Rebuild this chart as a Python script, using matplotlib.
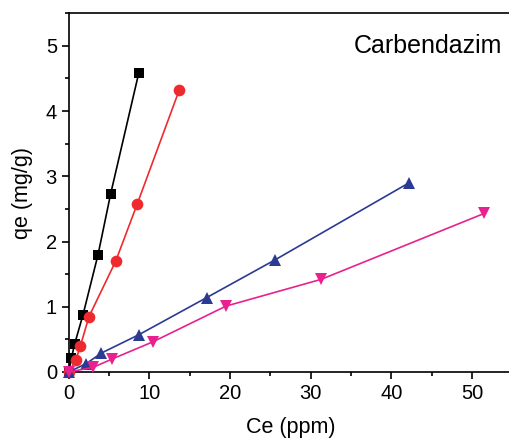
import matplotlib
matplotlib.use("Agg")
import matplotlib.pyplot as plt
from matplotlib.ticker import MultipleLocator

plt.rcParams['font.family'] = ['Liberation Sans', 'DejaVu Sans']

# data
ce_black = [0, 0.33, 0.74, 1.78, 3.64, 5.2, 8.68]
qe_black = [0, 0.21, 0.43, 0.88, 1.80, 2.73, 4.58]

ce_red = [0, 0.87, 1.45, 2.52, 5.83, 8.48, 13.7]
qe_red = [0, 0.18, 0.40, 0.85, 1.70, 2.57, 4.32]

ce_blue = [0, 2.2, 4.05, 8.68, 17.1, 25.6, 42.2]
qe_blue = [0, 0.13, 0.29, 0.57, 1.14, 1.72, 2.90]

ce_pink = [0, 3.0, 5.4, 10.4, 19.5, 31.3, 51.5]
qe_pink = [0, 0.07, 0.20, 0.46, 1.01, 1.42, 2.43]

series = [
    (ce_black, qe_black, 'black', 's', 7.6),
    (ce_red, qe_red, '#ee2a2e', 'o', 8.4),
    (ce_blue, qe_blue, '#2b3a93', '^', 9.0),
    (ce_pink, qe_pink, '#e8218f', 'v', 9.0),
]

fig = plt.figure(figsize=(5.10, 4.41), dpi=100)
ax = fig.add_axes([0.1347, 0.1565, 0.8698, 0.8135])

for x, y, col, mk, ms in series:
    ax.plot(x, y, color=col, marker=mk, markersize=ms, linewidth=1.2,
            markeredgewidth=0, clip_on=False, zorder=3)

ax.set_xlim(0, 55)
ax.set_ylim(0, 5.5)
ax.xaxis.set_major_locator(MultipleLocator(10))
ax.xaxis.set_minor_locator(MultipleLocator(5))
ax.yaxis.set_major_locator(MultipleLocator(1))
ax.yaxis.set_minor_locator(MultipleLocator(0.5))

ax.tick_params(which='major', direction='out', length=5, width=1.2, labelsize=14.5)
ax.tick_params(which='minor', direction='out', length=3, width=1.2)
for s in ['left', 'bottom', 'top']:
    ax.spines[s].set_linewidth(1.2)
ax.spines['right'].set_visible(False)

ax.set_xlabel('Ce (ppm)', fontsize=15.5, labelpad=10)
ax.set_ylabel('qe (mg/g)', fontsize=15.5, labelpad=9)

ax.text(0.978, 0.91, 'Carbendazim', transform=ax.transAxes, fontsize=18,
        ha='right', va='center')

fig.savefig('out.png', dpi=100)
